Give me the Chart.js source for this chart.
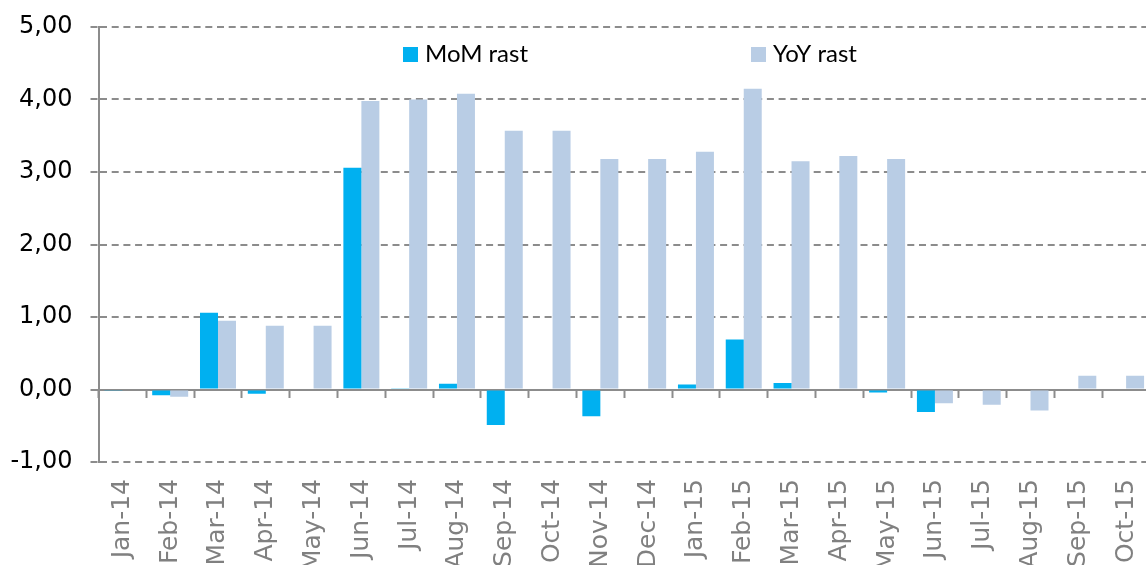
<!DOCTYPE html>
<html>
<head>
<meta charset="utf-8">
<script src="https://cdn.jsdelivr.net/npm/chart.js@4.4.0/dist/chart.umd.min.js"></script>
<style>
  html, body { margin: 0; padding: 0; background: #fff; overflow: hidden; }
  #wrap { width: 1150px; height: 600px; position: relative; }
</style>
</head>
<body>
<div id="wrap"><canvas id="grafico"></canvas></div>
<script>
const meses = ['Jan-14', 'Feb-14', 'Mar-14', 'Apr-14', 'May-14', 'Jun-14', 'Jul-14', 'Aug-14',
    'Sep-14', 'Oct-14', 'Nov-14', 'Dec-14', 'Jan-15', 'Feb-15', 'Mar-15', 'Apr-15',
    'May-15', 'Jun-15', 'Jul-15', 'Aug-15', 'Sep-15', 'Oct-15'];

const momRast = [-0.01, -0.08, 1.06, -0.06, 0, 3.06, 0.01, 0.08, -0.49, 0, -0.37, 0,
    0.07, 0.69, 0.09, 0, -0.04, -0.31, 0, 0, 0, 0];

const yoyRast = [0, -0.10, 0.95, 0.88, 0.88, 3.98, 4.00, 4.08, 3.57, 3.57, 3.18, 3.18,
    3.28, 4.15, 3.15, 3.22, 3.18, -0.19, -0.21, -0.29, 0.19, 0.19];

const yTicks = [-1, 0, 1, 2, 3, 4, 5];

const GRIS = '#8c8c8c';

// leyenda dibujada dentro del area del grafico, como en el original
const leyendaInterna = {
    id: 'leyendaInterna',
    afterDraw(chart) {
        const ctx = chart.ctx;
        const posiciones = [403, 751];
        ctx.save();
        ctx.font = '24px Lato';
        ctx.textBaseline = 'middle';
        chart.data.datasets.forEach((ds, i) => {
            const x = posiciones[i];
            ctx.fillStyle = ds.backgroundColor;
            ctx.fillRect(x, 47, 15, 15);
            ctx.fillStyle = '#000';
            ctx.fillText(ds.label, x + 22, 54);
        });
        ctx.restore();
    }
};

const ctx = document.getElementById('grafico').getContext('2d');
new Chart(ctx, {
    type: 'bar',
    data: {
        labels: meses,
        datasets: [
            {
                label: 'MoM rast',
                data: momRast,
                backgroundColor: '#00b0f0',
                categoryPercentage: 0.753,
                barPercentage: 1.0
            },
            {
                label: 'YoY rast',
                data: yoyRast,
                backgroundColor: '#b9cde5',
                categoryPercentage: 0.753,
                barPercentage: 1.0
            }
        ]
    },
    options: {
        responsive: true,
        maintainAspectRatio: false,
        animation: false,
        layout: { padding: { top: 27, left: 0, right: 0, bottom: 0 } },
        plugins: {
            legend: { display: false },
            tooltip: { enabled: false }
        },
        scales: {
            x: {
                grid: { display: false, drawTicks: false },
                border: { display: false },
                ticks: {
                    autoSkip: false,
                    minRotation: 90,
                    maxRotation: 90,
                    padding: 17,
                    color: '#808080',
                    font: { family: 'DejaVu Sans', size: 25 }
                },
                afterFit(scale) {
                    scale.height = 138;
                    scale.paddingLeft = 0;
                    scale.paddingRight = 0;
                }
            },
            // eje en el valor 0 con las marcas entre categorias
            x2: {
                type: 'category',
                labels: meses,
                position: { y: 0 },
                offset: true,
                z: 1,
                grid: {
                    offset: true,
                    drawOnChartArea: false,
                    drawTicks: true,
                    tickLength: 7,
                    tickWidth: 2,
                    tickColor: GRIS
                },
                border: { display: true, color: GRIS, width: 2 },
                ticks: { display: false },
                afterFit(scale) {
                    scale.paddingLeft = 0;
                    scale.paddingRight = 0;
                }
            },
            y: {
                min: -1,
                max: 5,
                afterBuildTicks(scale) {
                    scale.ticks = yTicks.map(v => ({ value: v }));
                },
                afterFit(scale) {
                    scale.width = 98.5;
                    scale.paddingTop = 0;
                    scale.paddingBottom = 0;
                },
                grid: {
                    color: GRIS,
                    lineWidth: 2,
                    tickLength: 8,
                    tickColor: GRIS,
                    tickWidth: 2,
                    tickBorderDash: c => c.tick && c.tick.value === 0 ? [] : [7, 4.7]
                },
                border: {
                    display: true,
                    color: GRIS,
                    width: 2,
                    dash: c => c.tick && c.tick.value === 0 ? [] : [7, 4.7]
                },
                ticks: {
                    padding: 18,
                    color: '#000',
                    font: { family: 'DejaVu Sans', size: 24 },
                    callback: v => v.toFixed(2).replace('.', ',')
                }
            }
        }
    },
    plugins: [leyendaInterna]
});
</script>
</body>
</html>
